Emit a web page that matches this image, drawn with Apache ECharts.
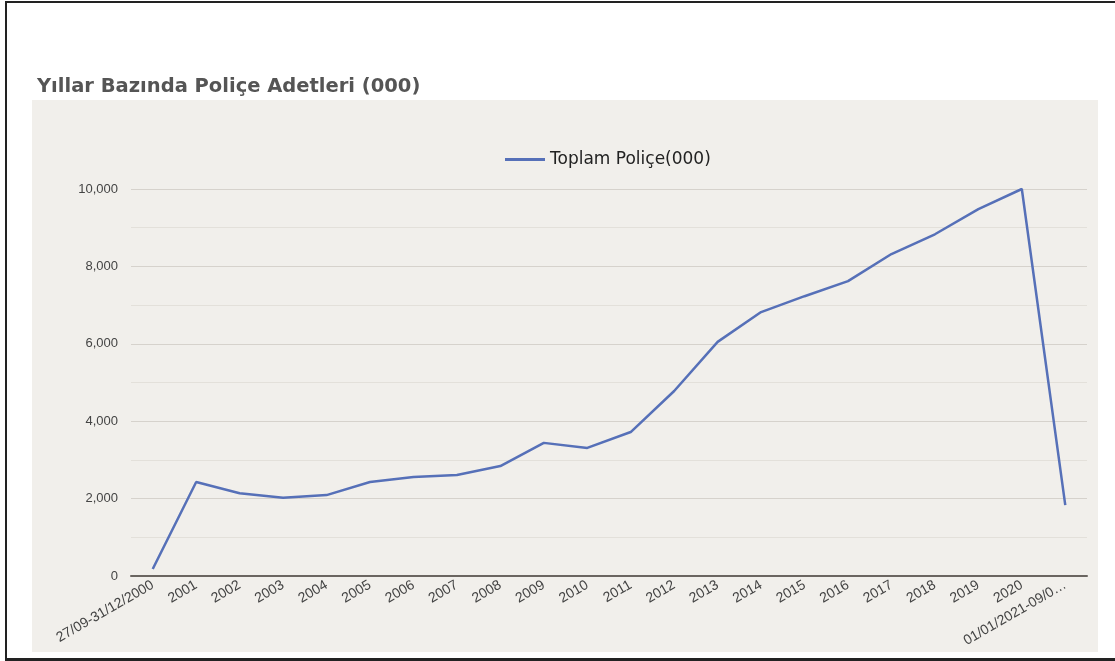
<!DOCTYPE html>
<html>
<head>
<meta charset="utf-8">
<script src="https://cdn.jsdelivr.net/npm/echarts@6/dist/echarts.min.js"></script>
<style>
html,body{margin:0;padding:0;background:#fff;}
#wrap{position:relative;width:1115px;height:661px;overflow:hidden;}
#frame{position:absolute;left:5px;top:1px;width:1120px;height:655px;border-top:2px solid #222;border-left:2px solid #222;border-bottom:3px solid #222;box-sizing:content-box;}
#panel{position:absolute;left:32px;top:100px;width:1066px;height:552px;background:#f1efeb;}
#chart{position:absolute;left:0;top:0;width:1115px;height:661px;}
</style>
</head>
<body>
<div id="wrap">
<div id="frame"></div>
<div id="panel"></div>
<div id="chart"></div>
</div>
<script>
const categories = ['27/09-31/12/2000','2001','2002','2003','2004','2005','2006','2007','2008','2009','2010','2011','2012','2013','2014','2015','2016','2017','2018','2019','2020','01/01/2021-09/0…'];
const seriesName = 'Toplam Poliçe(000)';
const values = [180,2430,2140,2020,2090,2430,2560,2610,2840,3440,3310,3720,4780,6050,6820,7230,7620,8320,8830,9480,10000,1830];
const yTicks = [0,2000,4000,6000,8000,10000];

const chart = echarts.init(document.getElementById('chart'), null, {renderer:'canvas'});
chart.setOption({
  backgroundColor:'transparent',
  animation:false,
  title:{
    text:'Yıllar Bazında Poliçe Adetleri (000)',
    left:32, top:72,
    textStyle:{fontFamily:'DejaVu Sans, sans-serif',fontSize:19.5,fontWeight:'bold',color:'#555'}
  },
  legend:{
    left:500, top:146,
    itemWidth:40, itemHeight:3, itemGap:8,
    icon:'rect',
    textStyle:{fontFamily:'DejaVu Sans, sans-serif',fontSize:17,color:'#222'},
    data:[seriesName]
  },
  grid:{left:131,right:28,top:189,bottom:85,containLabel:false},
  xAxis:{
    type:'category',
    data:categories,
    boundaryGap:true,
    axisLine:{show:true,lineStyle:{color:'#6a6560',width:2}},
    axisTick:{show:false},
    axisLabel:{
      interval:0, rotate:30, margin:8,
      fontFamily:'Liberation Sans, Arial, sans-serif',fontSize:14,color:'#444'
    }
  },
  yAxis:{
    type:'value',
    min:yTicks[0], max:yTicks[yTicks.length-1], interval:2000,
    axisLine:{show:false},
    axisTick:{show:false},
    axisLabel:{
      margin:13,
      fontFamily:'Liberation Sans, Arial, sans-serif',fontSize:13,color:'#444',
      formatter:function(v){return v.toLocaleString('en-US');}
    },
    splitLine:{show:true,lineStyle:{color:'#d6d2cc',width:1}},
    minorTick:{show:false,splitNumber:2},
    minorSplitLine:{show:true,lineStyle:{color:'#e3e0da',width:1}}
  },
  series:[{
    name:seriesName,
    type:'line',
    data:values,
    symbol:'none',
    lineStyle:{color:'#5670b8',width:2.5},
    itemStyle:{color:'#5670b8'}
  }]
});
</script>
</body>
</html>
